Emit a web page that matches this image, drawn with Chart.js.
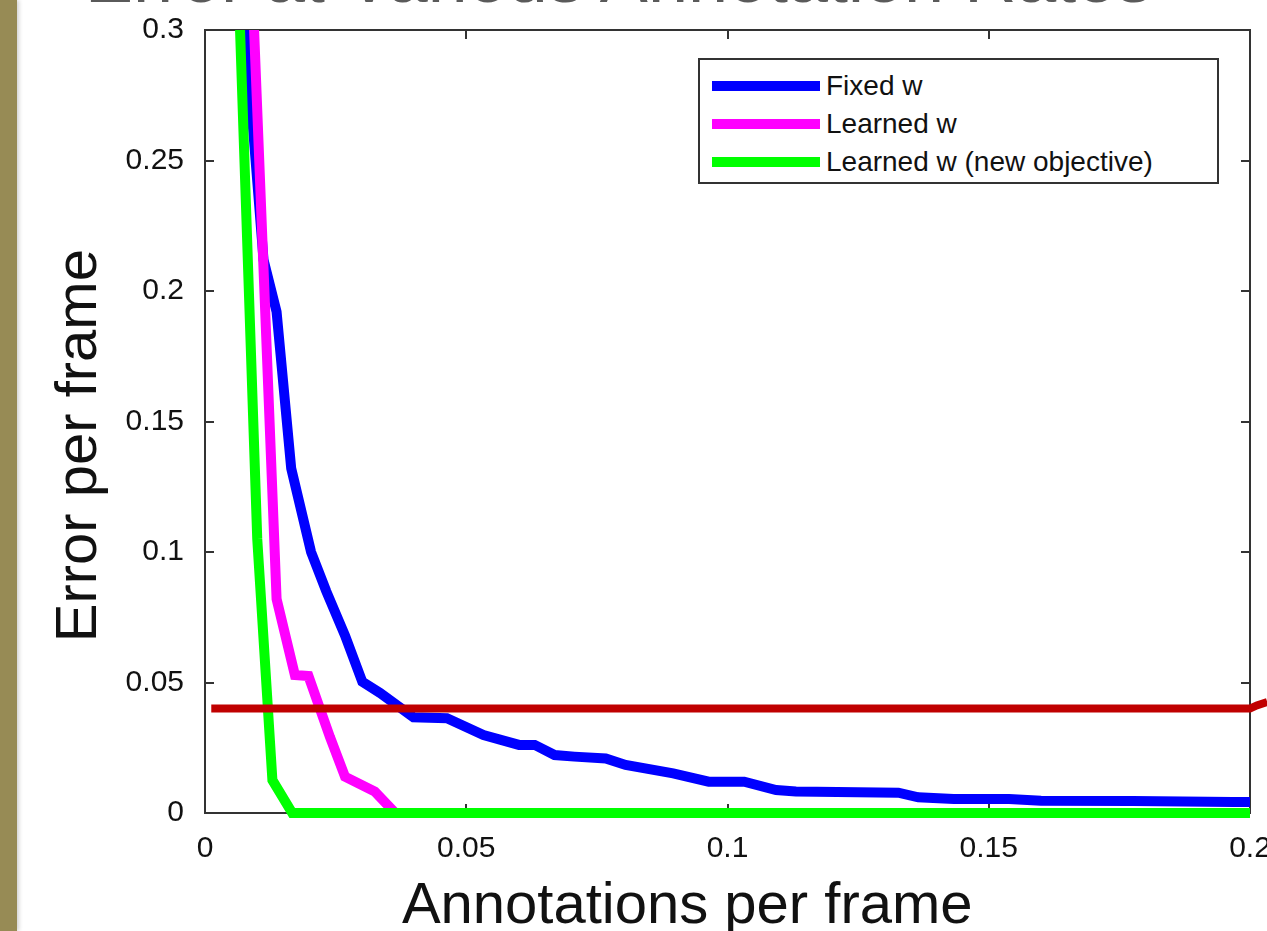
<!DOCTYPE html>
<html>
<head>
<meta charset="utf-8">
<title>Error per frame vs annotations per frame</title>
<script src="https://cdn.jsdelivr.net/npm/chart.js@4.4.1/dist/chart.umd.min.js"></script>
<style>
  html, body { margin: 0; padding: 0; background: #fff; overflow: hidden; }
  #wrap { position: relative; width: 1267px; height: 931px; overflow: hidden; }
  #strip { position: absolute; left: 0; top: 0; width: 17px; height: 931px; background: #978b55; box-shadow: 2px 0 4px rgba(0, 0, 0, 0.18); }
  #slide-title { position: absolute; left: 85px; top: -59px; font: 72px/72px "Liberation Sans", Arial, sans-serif; color: #5a5a5a; white-space: nowrap; }
  #chart-box { position: absolute; left: 0; top: 0; width: 1267px; height: 931px; }
  #legend { position: absolute; left: 698px; top: 58px; width: 521px; height: 126px; box-sizing: border-box; border: 2px solid #333; background: #fff; }
  .legend-row { position: absolute; left: 12px; height: 30px; display: flex; align-items: center; }
  .legend-swatch { width: 108px; height: 10px; margin-right: 6px; }
  .legend-text { font: 28px "Liberation Sans", Arial, sans-serif; color: #111; white-space: nowrap; }
</style>
</head>
<body>
<div id="wrap">
  <div id="strip"></div>
  <div id="slide-title">Error at Various Annotation Rates</div>
  <div id="chart-box"><canvas id="error-chart"></canvas></div>
  <div id="legend"></div>
</div>
<script>
// === ERROR PER FRAME vs ANNOTATIONS PER FRAME ===

const xTickLabels = ["0", "0.05", "0.1", "0.15", "0.2"];
const yTickLabels = ["0", "0.05", "0.1", "0.15", "0.2", "0.25", "0.3"];

const seriesLabels = ["Fixed w", "Learned w", "Learned w (new objective)"];
const seriesColors = ["#0000ff", "#ff00ff", "#00ff00"];

const fixedX = [0.0065, 0.0112, 0.0137, 0.0165, 0.0203, 0.0232, 0.0268, 0.0301, 0.0335, 0.0399, 0.0463,
                0.0533, 0.0601, 0.0631, 0.0669, 0.0707, 0.0767, 0.0805, 0.0896, 0.0964, 0.1032,
                0.1093, 0.1131, 0.1327, 0.1365, 0.1433, 0.1539, 0.1600, 0.1776, 0.1967, 0.2000];
const fixedY = [0.33, 0.212, 0.192, 0.132, 0.100, 0.085, 0.068, 0.0503, 0.046, 0.0367, 0.0363,
                0.0299, 0.0261, 0.0261, 0.0222, 0.0216, 0.0209, 0.0184, 0.0152, 0.0120, 0.0120,
                0.0088, 0.0082, 0.0078, 0.0060, 0.0054, 0.0054, 0.0047, 0.0046, 0.0042, 0.0042];

const learnedX = [0.0088, 0.0137, 0.0172, 0.0198, 0.0239, 0.0268, 0.0325, 0.0364, 0.2000];
const learnedY = [0.33, 0.082, 0.0529, 0.0525, 0.0292, 0.0139, 0.0082, 0.0, 0.0];

const newObjX = [0.0062, 0.0100, 0.0129, 0.0167, 0.2000];
const newObjY = [0.33, 0.105, 0.0126, 0.0, 0.0];

const thresholdX = [0.0012, 0.2000, 0.2013, 0.2033];
const thresholdY = [0.040, 0.040, 0.0412, 0.0425];

const FONT = "'Liberation Sans', Arial, sans-serif";
const AXIS = "#333333";
const TEXT = "#111111";

const toPoints = (xs, ys) => xs.map((x, i) => ({ x, y: ys[i] }));

const seriesData = [
  toPoints(fixedX, fixedY),
  toPoints(learnedX, learnedY),
  toPoints(newObjX, newObjY),
];

const datasets = seriesData.map((data, i) => ({
  label: seriesLabels[i],
  data,
  borderColor: seriesColors[i],
  backgroundColor: seriesColors[i],
  borderWidth: 10,
  order: 3 - i,
  clip: { left: 0, top: 0, right: 6, bottom: 6 },
}));

datasets.push({
  label: "threshold",
  data: toPoints(thresholdX, thresholdY),
  borderColor: "#c00000",
  backgroundColor: "#c00000",
  borderWidth: 8,
  order: 0,
  clip: false,
});

const tickFont  = { family: FONT, size: 30 };
const titleFont = { family: FONT, size: 58, lineHeight: 0.8 };

const innerGrid  = { drawOnChartArea: false, drawTicks: true, tickLength: -9, color: AXIS, lineWidth: 2 };
const axisBorder = { display: true, color: AXIS, width: 2 };

new Chart(document.getElementById("error-chart"), {
  type: "line",
  data: { datasets },
  options: {
    animation: false,
    responsive: true,
    maintainAspectRatio: false,
    layout: { padding: { left: 0, right: 17, top: 30, bottom: 0 } },
    plugins: { legend: { display: false }, tooltip: { enabled: false } },
    elements: {
      point: { radius: 0 },
      line: { tension: 0, fill: false, borderCapStyle: "butt", borderJoinStyle: "miter" },
    },
    scales: {
      x: {
        type: "linear",
        position: "bottom",
        // range fixed after data limits so the threshold line may run past the axis box
        afterDataLimits: (s) => { s.min = 0; s.max = 0.2; },
        ticks: {
          stepSize: 0.05,
          color: TEXT,
          font: tickFont,
          padding: 27,
          maxRotation: 0,
          autoSkip: false,
          callback: (v, i) => xTickLabels[i],
        },
        grid: innerGrid,
        border: axisBorder,
        title: {
          display: true,
          text: "Annotations per frame     ",
          color: TEXT,
          font: titleFont,
          padding: { top: 0, bottom: 1 },
        },
        afterFit: (s) => { s.height = 118; s.paddingLeft = 0; s.paddingRight = 0; },
      },
      x2: {
        type: "linear",
        position: "top",
        min: 0,
        max: 0.2,
        ticks: { stepSize: 0.05, display: false },
        grid: innerGrid,
        border: axisBorder,
        afterFit: (s) => { s.height = 0; s.paddingLeft = 0; s.paddingRight = 0; },
      },
      y: {
        type: "linear",
        position: "left",
        min: 0,
        max: 0.3,
        ticks: {
          stepSize: 0.05,
          color: TEXT,
          font: tickFont,
          padding: 30,
          autoSkip: false,
          callback: (v, i) => yTickLabels[i],
        },
        grid: innerGrid,
        border: axisBorder,
        title: {
          display: true,
          text: "Error per frame   ",
          color: TEXT,
          font: titleFont,
          padding: { top: 57, bottom: 0 },
        },
        afterFit: (s) => { s.width = 205; s.paddingTop = 0; s.paddingBottom = 0; },
      },
      y2: {
        type: "linear",
        position: "right",
        min: 0,
        max: 0.3,
        z: 1,
        ticks: { stepSize: 0.05, display: false },
        grid: innerGrid,
        border: axisBorder,
        afterFit: (s) => { s.width = 0; s.paddingTop = 0; s.paddingBottom = 0; },
      },
    },
  },
});

// MATLAB-style legend box, built from the series lists
const legendBox = document.getElementById("legend");
const rowTops = [11, 49, 87];
legendBox.innerHTML = seriesLabels
  .map((label, i) =>
    `<div class="legend-row" style="top:${rowTops[i]}px">
       <div class="legend-swatch" style="background:${seriesColors[i]}"></div>
       <span class="legend-text">${label}</span>
     </div>`
  )
  .join("");
</script>
</body>
</html>
